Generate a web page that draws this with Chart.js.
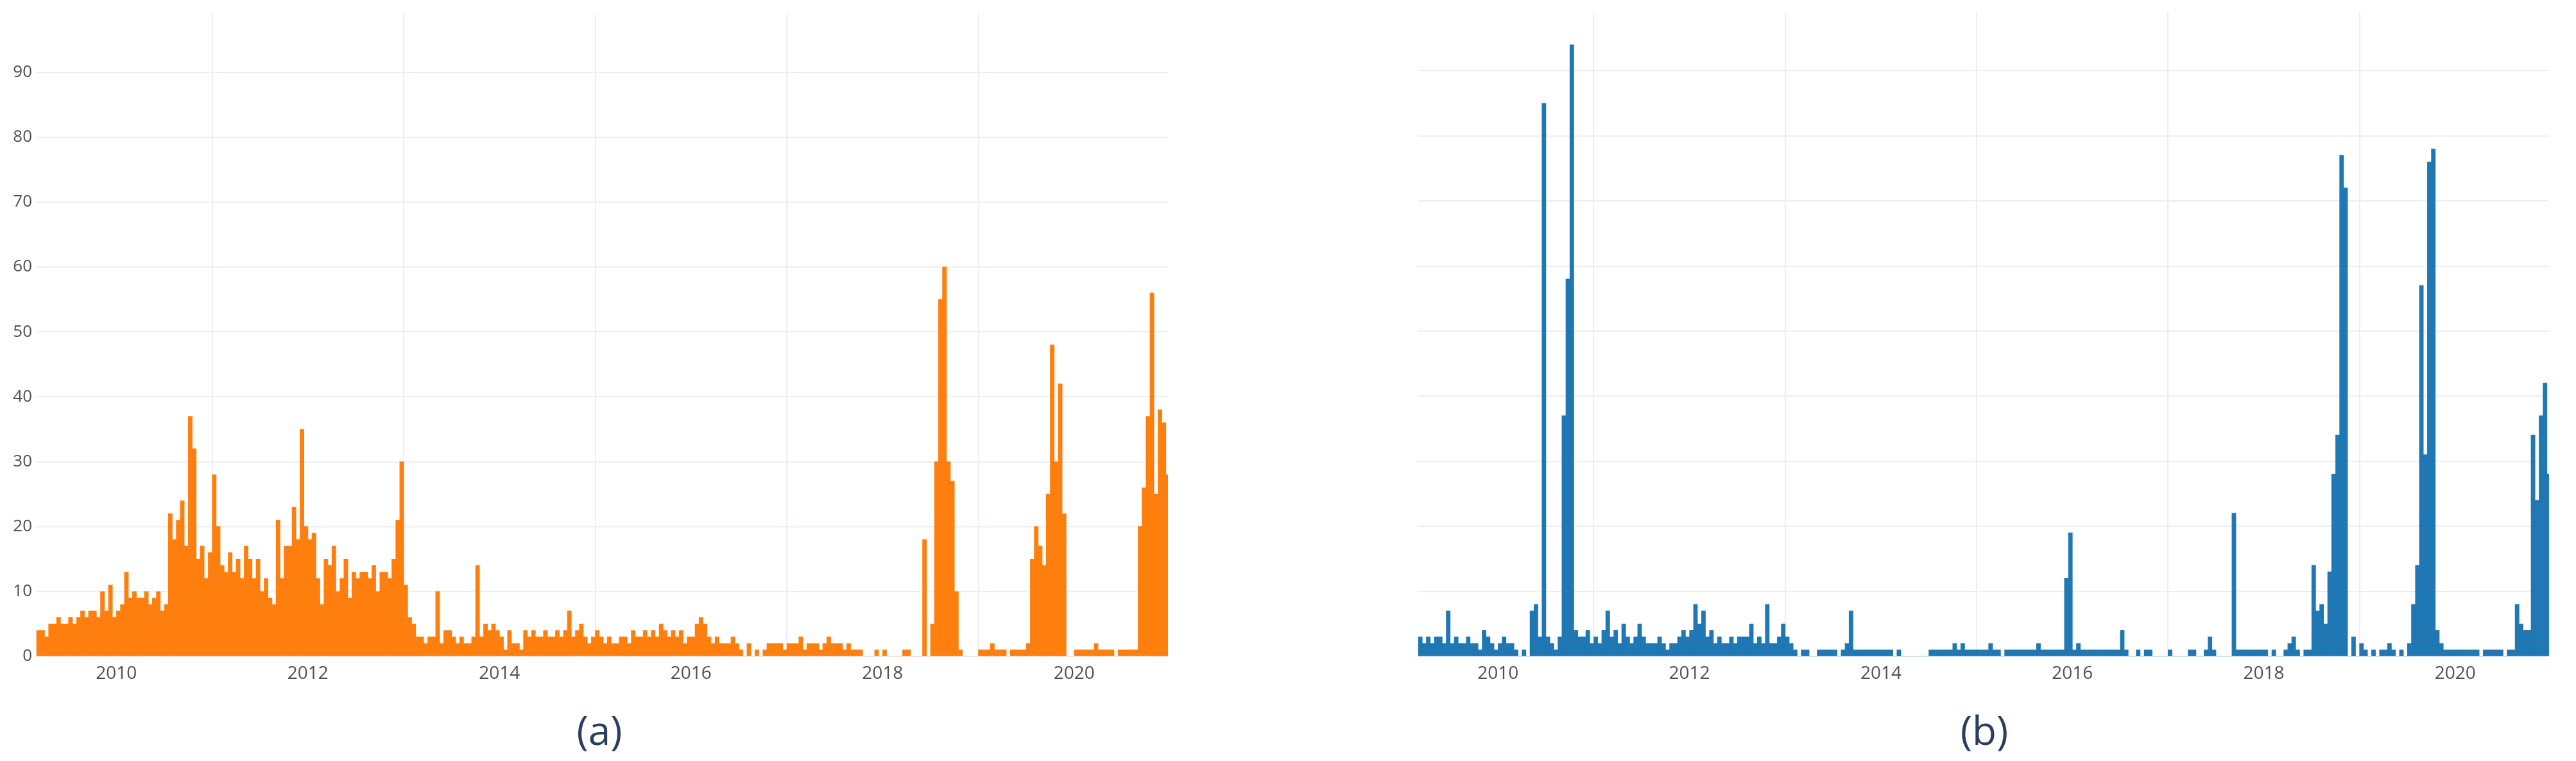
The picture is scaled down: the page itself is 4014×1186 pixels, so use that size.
<!DOCTYPE html>
<html>
<head>
<meta charset="utf-8">
<script src="https://cdn.jsdelivr.net/npm/chart.js@4"></script>
<style>
  body { margin: 0; background: #fff; width: 4014px; height: 1186px; position: relative; overflow: hidden; font-family: "Open Sans", sans-serif; }
  .box { position: absolute; top: 0; height: 1100px; }
  .cap { position: absolute; top: 1095px; font-size: 62px; color: #2a3f5f; transform: translateX(-50%); }
</style>
</head>
<body>
<div class="box" style="left:0;width:1830px"><canvas id="chartA"></canvas></div>
<div class="box" style="left:2209px;width:1773px"><canvas id="chartB"></canvas></div>
<div class="cap" style="left:934px">(a)</div>
<div class="cap" style="left:3092px">(b)</div>
<script>
// half-month bins, starting March 2009
const startYear = 2009.167;
const yearTicks = [2010, 2012, 2014, 2016, 2018, 2020];

const seriesA = [
  4,4,3,5,5,6,5,5,6,5,6,7,6,7,7,6,10,7,11,6,
  7,8,13,9,10,9,9,10,8,9,10,7,8,22,18,21,24,17,37,32,15,17,12,16,
  28,20,14,13,16,13,15,12,17,15,12,15,10,12,9,8,21,12,17,17,23,18,35,20,
  18,19,12,8,15,14,17,10,12,15,9,13,12,13,13,12,14,10,13,13,12,15,21,30,
  11,6,5,3,3,2,3,3,10,2,4,4,3,2,3,2,2,3,14,3,5,4,5,4,
  3,1,4,2,2,1,4,3,4,3,3,4,3,3,4,3,4,7,3,4,5,3,2,3,
  4,3,2,3,2,2,3,3,2,4,3,3,4,3,4,3,5,4,3,4,3,4,2,3,
  3,5,6,5,3,2,3,2,2,2,3,2,1,0,2,0,1,0,1,2,2,2,2,1,
  2,2,2,3,1,2,2,2,1,2,3,2,2,2,1,2,1,1,1,0,0,0,1,0,
  1,0,0,0,0,1,1,0,0,0,18,0,5,30,55,60,30,27,10,1,0,0,0,0,
  1,1,1,2,1,1,1,0,1,1,1,1,2,15,20,17,14,25,48,30,42,22,0,0,
  1,1,1,1,1,2,1,1,1,1,0,1,1,1,1,1,20,26,37,56,25,38,36,28
];

const seriesB = [
  3,2,3,2,3,3,2,7,2,3,2,2,3,2,2,1,4,3,2,1,
  2,3,2,2,1,0,1,0,7,8,3,85,3,2,1,3,37,58,94,4,3,3,4,2,
  3,2,4,7,3,4,2,5,3,2,3,5,3,2,2,2,3,2,1,2,2,3,4,3,
  4,8,5,7,3,4,2,3,2,2,3,2,3,3,3,5,2,3,2,8,2,2,3,5,
  3,2,1,0,1,1,0,0,1,1,1,1,1,0,1,2,7,1,1,1,1,1,1,1,
  1,1,1,0,1,0,0,0,0,0,0,0,1,1,1,1,1,1,2,1,2,1,1,1,
  1,1,1,2,1,1,0,1,1,1,1,1,1,1,1,2,1,1,1,1,1,1,12,19,
  1,2,1,1,1,1,1,1,1,1,1,1,4,1,0,0,1,0,1,1,0,0,0,0,
  1,0,0,0,0,1,1,0,0,1,3,1,0,0,0,0,22,1,1,1,1,1,1,1,
  1,0,1,0,0,1,2,3,1,0,1,1,14,7,8,5,13,28,34,77,72,0,3,0,
  2,1,0,1,0,1,1,2,1,0,1,0,2,8,14,57,31,76,78,4,2,1,1,1,
  1,1,1,1,1,1,0,1,1,1,1,1,0,1,1,8,5,4,4,34,24,37,42,28
];

function toPoints(values) {
  return values.map((v, i) => ({ x: startYear + i / 24 + 1 / 48, y: v }));
}

function makeChart(id, values, color, showY) {
  return new Chart(document.getElementById(id), {
    type: 'bar',
    data: {
      datasets: [{
        data: toPoints(values),
        backgroundColor: color,
        borderWidth: 0,
        barPercentage: 1,
        categoryPercentage: 1
      }]
    },
    options: {
      responsive: true,
      maintainAspectRatio: false,
      animation: false,
      layout: { padding: { top: 19, right: 10 } },
      plugins: { legend: { display: false }, tooltip: { enabled: false } },
      scales: {
        x: {
          type: 'linear',
          min: 2009.16,
          max: 2020.98,
          offset: false,
          grid: { color: '#ebeef4', lineWidth: 2, drawTicks: false },
          border: { display: false },
          ticks: { font: { size: 28, family: 'Open Sans' }, color: '#505050', padding: 10, callback: v => String(v) },
          afterBuildTicks: s => { s.ticks = yearTicks.map(v => ({ value: v })); },
          afterFit: s => { s.height = 77; }
        },
        y: {
          min: 0,
          max: 99,
          grid: { color: '#ebeef4', lineWidth: 2, drawTicks: false },
          border: { display: false },
          ticks: { display: showY, font: { size: 26, family: 'Open Sans' }, color: '#505050', padding: 6 },
          afterBuildTicks: s => { s.ticks = s.ticks.filter(t => t.value % 10 === 0); },
          afterFit: s => { s.width = showY ? 56 : 0; }
        }
      }
    }
  });
}

makeChart('chartA', seriesA, '#ff7f0e', true);
makeChart('chartB', seriesB, '#1f77b4', false);
</script>
</body>
</html>
